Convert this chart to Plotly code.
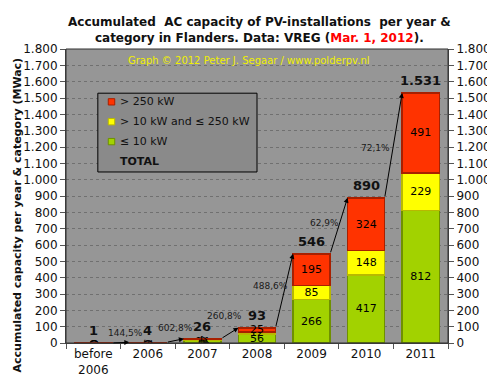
import plotly.graph_objects as go

# ---------------- data ----------------
categories = ["before<br>2006", "2006", "2007", "2008", "2009", "2010", "2011"]
small_kw = [0.4, 0.4, 14, 56, 266, 417, 812]      # <= 10 kW
medium_kw = [0.2, 0.3, 8, 12, 85, 148, 229]       # > 10 kW and <= 250 kW
large_kw = [0.4, 3.3, 4, 25, 195, 324, 491]       # > 250 kW
totals = [1, 4, 26, 93, 546, 890, 1531]
growth = ["144,5%", "602,8%", "260,8%", "488,6%", "62,9%", "72,1%"]
y_tick_values = list(range(0, 1801, 100))

# ---------------- styling ----------------
FONT = "DejaVu Sans"
BAR_W = 0.68
PLOT_BG = "#969696"
GREEN, GREEN_EDGE = "#a2d200", "#6f9000"
YELLOW, YELLOW_EDGE = "#ffff00", "#b8b800"
RED, RED_EDGE = "#ff3300", "#a82000"

# plot-area geometry in pixels (for paper conversions)
W, H = 495, 381
ML, MR, MT, MB = 58, 53, 41, 34
PW, PH = W - ML - MR, H - MT - MB


def px_x(p):
    return (p - ML) / PW


def px_y(p):
    return (H - MB - p) / PH


xpos = list(range(len(categories)))

fig = go.Figure()
for name, vals, col, edge in [
    ("≤ 10 kW", small_kw, GREEN, GREEN_EDGE),
    ("> 10 kW and ≤ 250 kW", medium_kw, YELLOW, YELLOW_EDGE),
    ("> 250 kW", large_kw, RED, RED_EDGE),
]:
    fig.add_trace(go.Bar(
        x=xpos, y=vals, name=name, width=BAR_W,
        marker=dict(color=col, line=dict(color=edge, width=1.5)),
        texttemplate="%{y:.0f}", textposition="inside",
        insidetextanchor="middle",
        textfont=dict(family=FONT, size=11, color="black"),
        showlegend=False, hoverinfo="skip",
    ))

# invisible trace for right axis
fig.add_trace(go.Scatter(x=[0], y=[0], yaxis="y2", mode="markers",
                         marker=dict(opacity=0), showlegend=False,
                         hoverinfo="skip"))

annotations = []
# totals above bars
for i, t in enumerate(totals):
    annotations.append(dict(
        x=i, y=t, xref="x", yref="y", text=f"<b>{t:,}</b>".replace(",", "."),
        showarrow=False, yshift=12, yanchor="middle",
        font=dict(family=FONT, size=13, color="#111111")))

# growth arrows between bar tops
for i in range(len(totals) - 1):
    annotations.append(dict(
        x=i + 1 - BAR_W / 2, y=totals[i + 1], xref="x", yref="y",
        ax=i + BAR_W / 2, ay=totals[i], axref="x", ayref="y",
        text="", showarrow=True, arrowhead=2, arrowsize=1, arrowwidth=1,
        arrowcolor="black", standoff=0, startstandoff=0))

# growth percentage labels (pixel shifts from midpoint)
growth_shift = [(5, 10), (0, 13), (-5, 17), (-14, 5), (-14, 3), (-18, -3)]
for i, g in enumerate(growth):
    dx, dy = growth_shift[i]
    annotations.append(dict(
        x=i + 0.5, y=(totals[i] + totals[i + 1]) / 2, xref="x", yref="y",
        text=g, showarrow=False, xshift=dx, yshift=dy,
        font=dict(family=FONT, size=9, color="#1a1a1a")))

# watermark
annotations.append(dict(
    x=px_x(118), y=px_y(53), xref="paper", yref="paper", xanchor="left",
    yanchor="middle", text="Graph © 2012 Peter J. Segaar / www.polderpv.nl",
    showarrow=False, font=dict(family=FONT, size=10, color="#f0f000")))

# y axis title
annotations.append(dict(
    x=px_x(9), y=px_y(214), xref="paper", yref="paper", textangle=-90,
    text="<b>Accumulated capacity per year & category (MWac)</b>",
    showarrow=False, xanchor="center", yanchor="middle",
    font=dict(family=FONT, size=11, color="#111111")))

# title
annotations.append(dict(
    x=px_x(253), y=px_y(21), xref="paper", yref="paper",
    text="<b>Accumulated  AC capacity of PV-installations  per year &amp;<br>"
         "category in Flanders. Data: VREG (<span style='color:#ff0000'>Mar. 1, 2012</span>).</b>",
    showarrow=False, xanchor="center", yanchor="middle",
    font=dict(family=FONT, size=12, color="#111111")))

# manual legend
legend_items = [("> 250 kW", RED, RED_EDGE), ("> 10 kW and ≤ 250 kW", YELLOW, YELLOW_EDGE),
                ("≤ 10 kW", GREEN, GREEN_EDGE), ("<b>TOTAL</b>", None, None)]
shapes = [dict(type="rect", xref="paper", yref="paper",
               x0=px_x(90), x1=px_x(250), y0=px_y(169), y1=px_y(87),
               fillcolor="#8a8a8a", line=dict(color="black", width=1), layer="above")]
for k, (lab, col, edge) in enumerate(legend_items):
    cy = 96 + k * 20.7
    if col:
        shapes.append(dict(type="rect", xref="paper", yref="paper",
                           x0=px_x(100.5), x1=px_x(107), y0=px_y(cy + 3.3), y1=px_y(cy - 3.3),
                           fillcolor=col, line=dict(color=edge, width=1), layer="above"))
    annotations.append(dict(
        x=px_x(110), y=px_y(cy), xref="paper", yref="paper", xanchor="left",
        yanchor="middle", text=lab, showarrow=False,
        font=dict(family=FONT, size=11, color="#111111")))

# plot frame
shapes.append(dict(type="rect", xref="paper", yref="paper", x0=0, x1=1, y0=0, y1=1,
                   line=dict(color="#303030", width=1), layer="above"))

axis_common = dict(range=[0, 1800], tickvals=y_tick_values, tickformat=",d",
                   ticks="outside", ticklen=5, tickcolor="#555555",
                   tickfont=dict(family=FONT, size=12, color="#111111"),
                   showline=True, linecolor="#444444", zeroline=False)

fig.update_layout(
    width=W, height=H, margin=dict(l=ML, r=MR, t=MT, b=MB),
    paper_bgcolor="white", plot_bgcolor=PLOT_BG,
    barmode="stack", bargap=0.32, separators=",.",
    showlegend=False,
    uniformtext=dict(minsize=11, mode="show"),
    xaxis=dict(range=[-0.5, 6.5], tickvals=xpos, ticktext=categories,
               ticks="", showgrid=False, zeroline=False, showline=True,
               linecolor="#444444",
               tickfont=dict(family=FONT, size=12, color="#111111"),
               minor=dict(tick0=-0.5, dtick=1, ticks="outside", ticklen=5,
                          tickcolor="#555555", showgrid=False)),
    yaxis=dict(side="left", showgrid=True, gridcolor="#707070",
               griddash="3px,3px", gridwidth=1, **axis_common),
    yaxis2=dict(side="right", overlaying="y", showgrid=False, **axis_common),
    annotations=annotations, shapes=shapes,
)

fig.write_html("out.html")
